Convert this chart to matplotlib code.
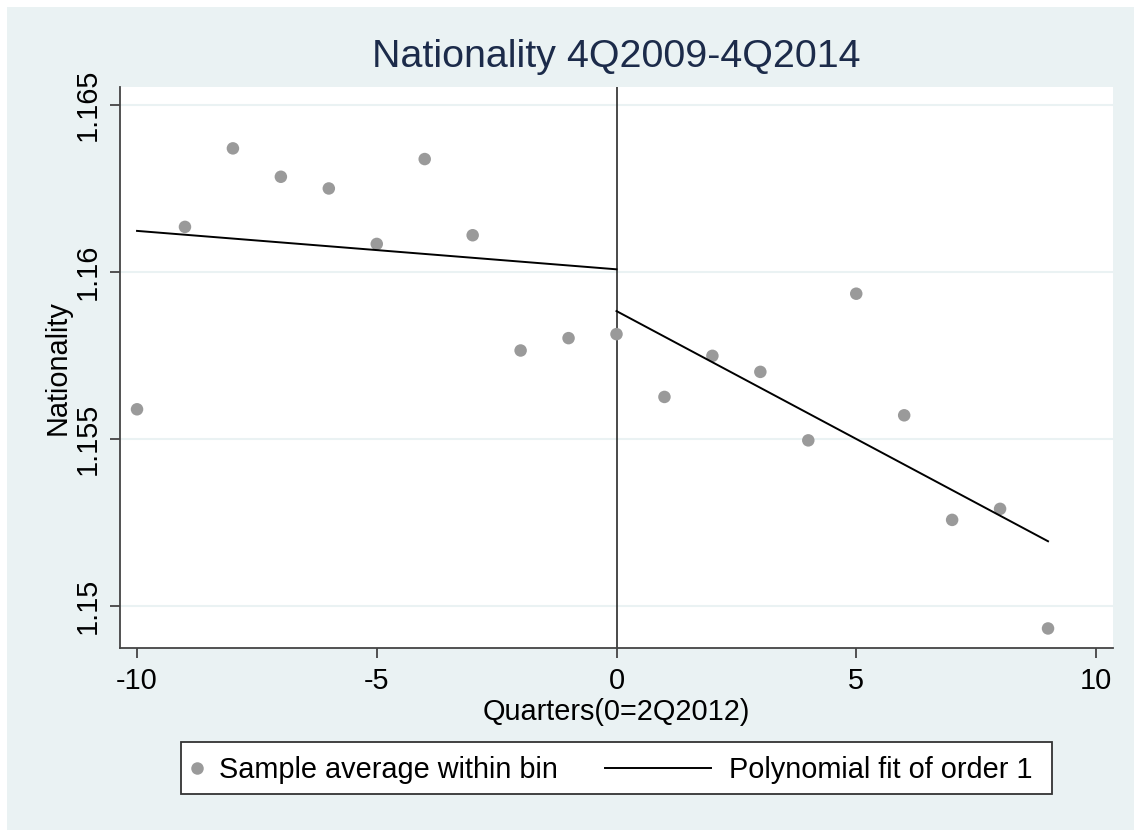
import matplotlib
matplotlib.use("Agg")
import matplotlib.pyplot as plt
from matplotlib.patches import Rectangle
from matplotlib.lines import Line2D

plt.rcParams['font.family'] = ['Liberation Sans', 'DejaVu Sans']
plt.rcParams['axes.unicode_minus'] = False

# ---- data ----
quarters = [-10, -9, -8, -7, -6, -5, -4, -3, -2, -1, 0, 1, 2, 3, 4, 5, 6, 7, 8, 9]
bin_means = [1.15588, 1.16134, 1.16369, 1.16284, 1.16249, 1.16083, 1.16337, 1.16109,
             1.15764, 1.15801, 1.15813, 1.15625, 1.15748, 1.15700, 1.15495, 1.15934,
             1.15570, 1.15257, 1.15290, 1.14932]
fit_left_x = [-10, 0]
fit_left_y = [1.16122, 1.16007]
fit_right_x = [0, 9]
fit_right_y = [1.15882, 1.15193]
xticks = [-10, -5, 0, 5, 10]
yticks = [1.15, 1.155, 1.16, 1.165]
ytick_labels = ['1.15', '1.155', '1.16', '1.165']
title = 'Nationality 4Q2009-4Q2014'
xlabel = 'Quarters(0=2Q2012)'
ylabel = 'Nationality'
legend_labels = ['Sample average within bin', 'Polynomial fit of order 1']

W, H = 1134, 830
BG = '#EAF2F3'
DOT = '#9a9a9a'
AX = '#444444'
FS = 20.8

fig = plt.figure(figsize=(W / 100, H / 100), dpi=100, facecolor='white')
fig.patches.append(Rectangle((7 / W, 0), 1 - 7 / W, 1 - 7 / H, transform=fig.transFigure,
                             facecolor=BG, edgecolor='none', zorder=-10))

x0, x1, y0, y1 = 120, 1113, 87, 648
ax = fig.add_axes([x0 / W, 1 - y1 / H, (x1 - x0) / W, (y1 - y0) / H])
ax.set_facecolor('white')
ax.set_xlim(-10.355, 10.355)
ax.set_ylim(1.148735, 1.165527)

ax.set_yticks(yticks)
ax.set_yticklabels(ytick_labels)
ax.set_xticks(xticks)
ax.grid(axis='y', color=BG, linewidth=1.5, zorder=0)
ax.set_axisbelow(True)

for s in ['top', 'right']:
    ax.spines[s].set_visible(False)
for s in ['left', 'bottom']:
    ax.spines[s].set_color(AX)
    ax.spines[s].set_linewidth(1.3)

ax.tick_params(axis='both', colors=AX, labelcolor='black', labelsize=FS, width=1.3, length=7.5)
ax.tick_params(axis='x', pad=6.5)
ax.tick_params(axis='y', pad=5.5)
for lab in ax.get_yticklabels():
    lab.set_rotation(90)
    lab.set_va('center')

ax.axvline(0, color='#2b2b2b', linewidth=1.2, zorder=2)
ax.scatter(quarters, bin_means, s=9 ** 2, color=DOT, edgecolors='none', zorder=3)
ax.plot(fit_left_x, fit_left_y, color='black', linewidth=1.4, zorder=4)
ax.plot(fit_right_x, fit_right_y, color='black', linewidth=1.4, zorder=4)

ax.set_title(title, fontsize=28.4, color='#1c2b4a', y=(y1 - 75) / (y1 - y0), va='baseline')
ax.set_xlabel(xlabel, fontsize=FS, labelpad=1.5)
ax.set_ylabel(ylabel, fontsize=FS, labelpad=2)

# ---- legend box (Stata style) ----
lx0, lx1, ly0, ly1 = 181, 1052, 742, 794
fig.patches.append(Rectangle((lx0 / W, 1 - ly1 / H), (lx1 - lx0) / W, (ly1 - ly0) / H,
                             transform=fig.transFigure, facecolor='white',
                             edgecolor='#333333', linewidth=1.3, zorder=5))
ymid = 1 - 768 / H
ybase = 1 - 778.3 / H
fig.add_artist(Line2D([196.7 / W], [ymid], marker='o', markersize=9, color=DOT,
                      markeredgewidth=0, linestyle='none', transform=fig.transFigure, zorder=6))
fig.text(219 / W, ybase, legend_labels[0], fontsize=FS, va='baseline', ha='left', zorder=6)
fig.add_artist(Line2D([605 / W, 711 / W], [ymid, ymid], color='black', linewidth=1.4,
                      transform=fig.transFigure, zorder=6))
fig.text(729 / W, ybase, legend_labels[1], fontsize=FS, va='baseline', ha='left', zorder=6)

fig.savefig('out.png', dpi=100, facecolor=fig.get_facecolor())
